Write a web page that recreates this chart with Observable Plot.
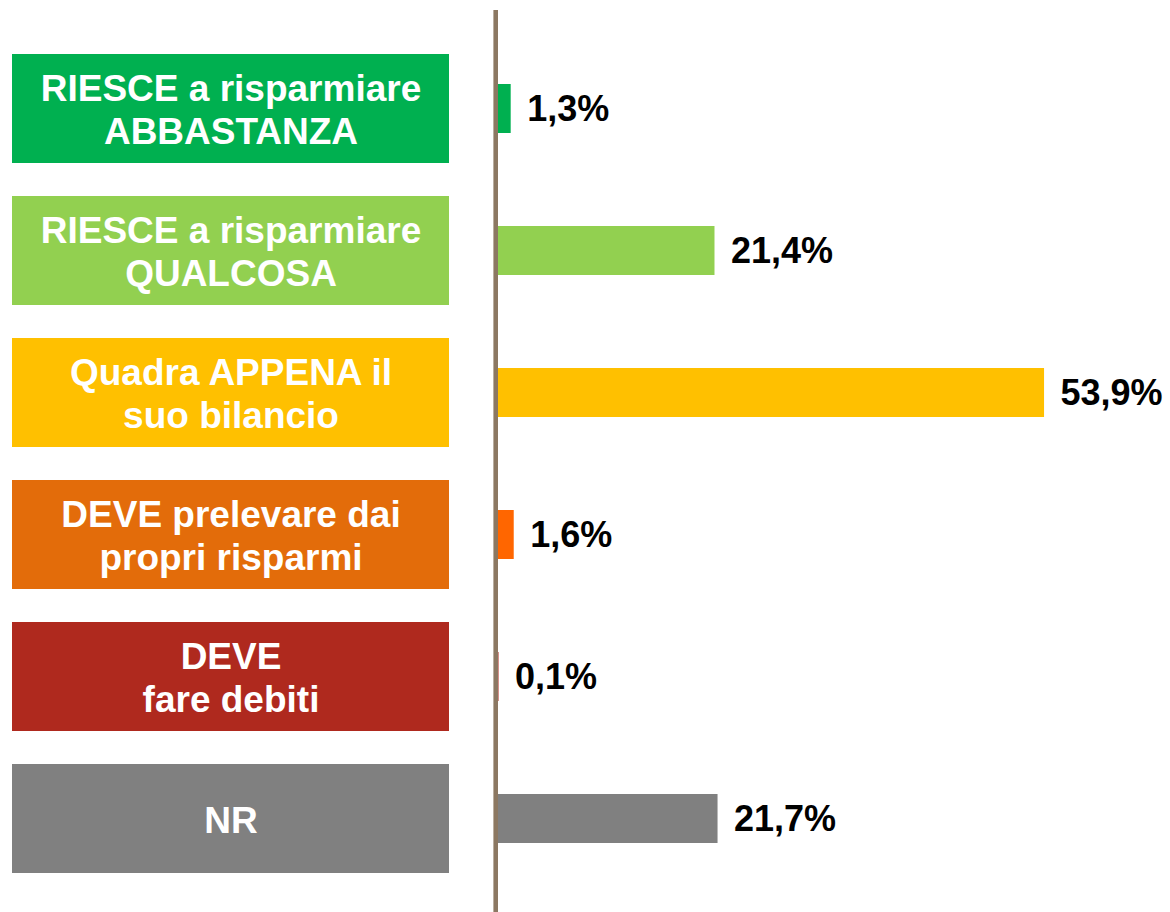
<!DOCTYPE html>
<html>
<head>
<meta charset="utf-8">
<script src="https://cdn.jsdelivr.net/npm/d3@7"></script>
<script src="https://cdn.jsdelivr.net/npm/@observablehq/plot@0.6"></script>
<style>
  html, body { margin: 0; padding: 0; background: #fff; }
  #chart svg { display: block; }
</style>
</head>
<body>
<div id="chart"></div>
<script>
// ---- data ----
const categories = [
  "RIESCE a risparmiare\nABBASTANZA",
  "RIESCE a risparmiare\nQUALCOSA",
  "Quadra APPENA il\nsuo bilancio",
  "DEVE prelevare dai\npropri risparmi",
  "DEVE\nfare debiti",
  "NR"
];
const values = [1.3, 21.4, 53.9, 1.6, 0.1, 21.7];
const boxColors = ["#00B050", "#92D050", "#FFC000", "#E36C0A", "#AF291E", "#808080"];
const barColors = ["#00B050", "#92D050", "#FFC000", "#FF6600", "#AF291E", "#808080"];

const rows = categories.map((c, i) => ({cat: c, value: values[i], box: boxColors[i], bar: barColors[i]}));
const fmt = v => v.toFixed(1).replace(".", ",") + "%";

// ---- layout (pixels -> data units) ----
const W = 1170, H = 912;
const PX = 10.14;      // pixels per percentage point
const ZERO = 497.5;    // pixel position of 0%
const toX = px => (px - ZERO) / PX;
const boxX1 = toX(12), boxX2 = toX(449);
const font = "'Liberation Sans', Arial, Helvetica, sans-serif";

const chart = Plot.plot({
  width: W,
  height: H,
  marginLeft: 0,
  marginRight: 0,
  marginTop: 52,
  marginBottom: 37,
  style: {fontFamily: font, background: "#fff"},
  x: {domain: [toX(0), toX(W)], axis: null},
  y: {domain: categories, axis: null, paddingInner: 0.229, paddingOuter: 0},
  color: {type: "identity"},
  marks: [
    Plot.barX(rows, {x1: boxX1, x2: boxX2, y: "cat", fill: d => d.box}),
    Plot.text(rows, {
      x: (boxX1 + boxX2) / 2, y: "cat", text: "cat",
      fill: "#fff", fontSize: 37, fontWeight: "bold", lineHeight: 1.16,
      textAnchor: "middle", fontFamily: font
    }),
    Plot.barX(rows, {x: "value", y: "cat", fill: d => d.bar, insetTop: 30, insetBottom: 30}),
    Plot.ruleX([0], {stroke: "#8C7862", strokeWidth: 4.6, dx: -2.3, insetTop: -42, insetBottom: -37}),
    Plot.text(rows, {
      x: "value", y: "cat", text: d => fmt(d.value),
      dx: 16, textAnchor: "start", fill: "#000",
      fontSize: 36, fontWeight: "bold", fontFamily: font
    })
  ]
});
document.getElementById("chart").appendChild(chart);
</script>
</body>
</html>
